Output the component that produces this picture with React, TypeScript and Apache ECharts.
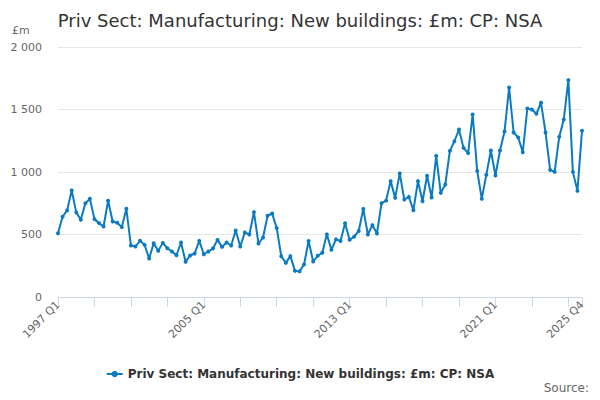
import { useEffect, useRef } from 'react'
import * as echarts from 'echarts'

// quarterly categories 1997 Q1 .. 2025 Q4
const years: number[] = []
for (let y = 1997; y <= 2025; y++) years.push(y)
const quarters = ['Q1', 'Q2', 'Q3', 'Q4']
const categories: string[] = years.flatMap(y => quarters.map(q => `${y} ${q}`))

const seriesName = 'Priv Sect: Manufacturing: New buildings: £m: CP: NSA'

// £m
const values: number[] = [
  510, 642, 693, 853, 677, 618, 749, 786, 623, 591, 564, 770, 604, 594, 559, 706,
  412, 404, 450, 417, 308, 430, 369, 433, 390, 364, 334, 436, 281, 332, 348, 449,
  342, 364, 388, 457, 401, 436, 412, 532, 404, 516, 500, 679, 428, 476, 650, 668,
  551, 326, 273, 327, 209, 205, 260, 448, 284, 330, 354, 501, 378, 461, 448, 590,
  458, 483, 528, 705, 500, 575, 508, 750, 771, 927, 793, 989, 780, 801, 694, 927,
  766, 970, 796, 1129, 833, 900, 1169, 1246, 1340, 1193, 1151, 1460, 1009, 785, 977, 1172,
  972, 1172, 1324, 1676, 1316, 1276, 1158, 1508, 1500, 1466, 1555, 1316, 1017, 1001, 1281, 1420,
  1735, 1001, 849, 1330
]

const yTicks = [0, 500, 1000, 1500, 2000]

const FONT = 'DejaVu Sans, Verdana, sans-serif'
const AXIS_COLOR = '#ccd6eb'

export default function App() {
  const chartRef = useRef<HTMLDivElement>(null)

  useEffect(() => {
    if (!chartRef.current) return
    const chart = echarts.init(chartRef.current, null, { renderer: 'svg' })
    const last = categories.length - 1
    const isTick = (i: number) => i % 8 === 0 || i === last

    const option: echarts.EChartsOption = {
      animation: false,
      textStyle: { fontFamily: FONT },
      title: {
        text: seriesName,
        left: 'center',
        top: 6,
        textStyle: { fontSize: 18, fontWeight: 'normal', color: '#333333', fontFamily: FONT }
      },
      grid: [
        { left: 58, right: 18, top: 47, bottom: 103, containLabel: false, outerBoundsMode: 'none' },
        // thin strip under the plot, used only for the x tick marks
        { left: 58, right: 18, top: 297, height: 10, containLabel: false, outerBoundsMode: 'none' }
      ] as any,
      legend: {
        data: [seriesName],
        top: 363,
        left: 'center',
        itemWidth: 16,
        itemHeight: 8,
        itemGap: 5,
        textStyle: { fontSize: 12, fontWeight: 'bold', color: '#333333', fontFamily: FONT }
      },
      xAxis: [
        {
          type: 'category',
          gridIndex: 0,
          data: categories,
          boundaryGap: false,
          axisLine: { show: true, onZero: false, lineStyle: { color: AXIS_COLOR, width: 1 } },
          axisTick: {
            show: true,
            length: 10,
            lineStyle: { color: AXIS_COLOR, width: 1 },
            interval: isTick
          },
          axisLabel: {
            rotate: 45,
            color: '#666666',
            fontSize: 11,
            margin: 6,
            interval: (i: number) => i % 32 === 0 || i === last
          },
          splitLine: { show: false }
        },
        {
          type: 'category',
          gridIndex: 1,
          position: 'top',
          data: categories,
          boundaryGap: false,
          axisLine: { show: true, onZero: false, lineStyle: { color: AXIS_COLOR, width: 1 } },
          axisTick: { show: false },
          axisLabel: { show: false },
          splitLine: { show: true, interval: isTick, lineStyle: { color: AXIS_COLOR, width: 1 } }
        }
      ],
      yAxis: [
        {
          type: 'value',
          gridIndex: 0,
          min: yTicks[0],
          max: yTicks[yTicks.length - 1],
          interval: 500,
          axisLine: { show: false },
          axisTick: { show: false },
          axisLabel: {
            color: '#666666',
            fontSize: 11,
            margin: 16,
            formatter: (v: number) => String(v).replace(/\B(?=(\d{3})+(?!\d))/g, ' ')
          },
          splitLine: { lineStyle: { color: '#e6e6e6' } }
        },
        {
          type: 'value',
          gridIndex: 1,
          min: 0,
          max: 1,
          show: false
        }
      ],
      series: [
        {
          name: seriesName,
          type: 'line',
          xAxisIndex: 0,
          yAxisIndex: 0,
          data: values,
          symbol: 'circle',
          symbolSize: 4,
          showSymbol: true,
          showAllSymbol: true,
          itemStyle: { color: '#0b7bc1' },
          lineStyle: { width: 2, color: '#0b7bc1' }
        }
      ],
      graphic: [
        {
          type: 'text',
          left: 12,
          top: 25,
          style: { text: '£m', fontSize: 11, fill: '#666666', fontFamily: FONT }
        },
        {
          type: 'text',
          right: 11,
          top: 382,
          style: { text: 'Source:', fontSize: 12, fill: '#666666', fontFamily: FONT }
        }
      ]
    }

    chart.setOption(option)

    return () => {
      chart.dispose()
    }
  }, [])

  return <div ref={chartRef} style={{ width: 600, height: 400, margin: -8 }} />
}
